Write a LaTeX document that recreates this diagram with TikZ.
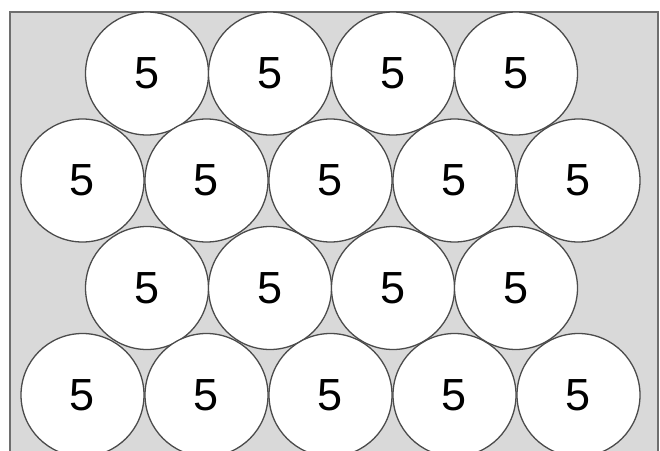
\documentclass[tikz,border=0pt]{standalone}
\usepackage{fontspec}
\setmainfont{Liberation Sans}
\usetikzlibrary{positioning}
\definecolor{traygray}{RGB}{217,217,217}
\definecolor{rimgray}{RGB}{75,75,75}
\definecolor{edgegray}{RGB}{110,110,110}

\begin{document}
\begin{tikzpicture}[x=1pt, y=-1pt,
  coin/.style={circle, draw=rimgray, fill=white, line width=1.3pt,
    minimum size=123pt, inner sep=0pt, font=\fontsize{45}{45}\selectfont}]
  \useasboundingbox (0,0) rectangle (660,450);
  % tray
  \draw[line width=2pt, draw=edgegray, fill=traygray] (10,12) rectangle (658,480);
  % rows of four (shifted half a coin)
  \foreach \row/\yy in {1/73.5, 3/288}
    \foreach \k in {0,...,3}
      \node[coin] (c\row-\k) at (147+123*\k, \yy) {5};
  % rows of five
  \foreach \row/\yy in {2/180.5, 4/395}
    \foreach \k in {0,...,4}
      \node[coin] (c\row-\k) at (82.5+124*\k, \yy) {5};
\end{tikzpicture}
\end{document}
